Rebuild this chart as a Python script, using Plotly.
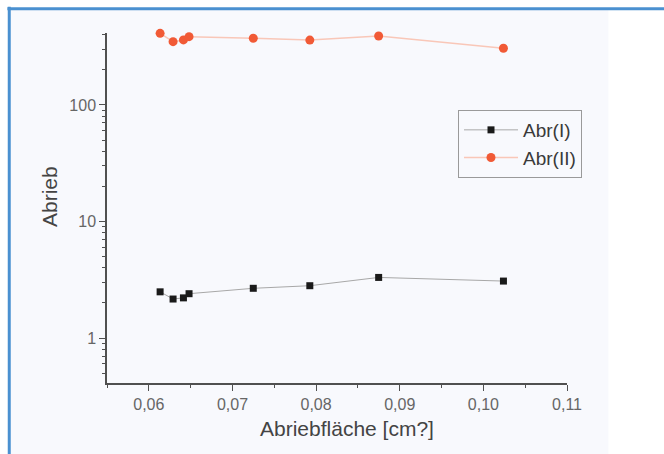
import plotly.graph_objects as go

x_vals = [0.06135, 0.0629, 0.06414, 0.06481, 0.07249, 0.07925, 0.08748, 0.1024]
abr_I = [2.49, 2.16, 2.21, 2.40, 2.67, 2.81, 3.31, 3.08]
abr_II = [411, 349, 361, 385, 373, 360, 390, 306]

x_major = [0.06, 0.07, 0.08, 0.09, 0.10, 0.11]
x_labels = ["0,06", "0,07", "0,08", "0,09", "0,10", "0,11"]
x_minor = [0.055, 0.065, 0.075, 0.085, 0.095, 0.105]
y_major = [1, 10, 100]
y_labels = ["1", "10", "100"]
y_minor = [0.5, 0.6, 0.7, 0.8, 0.9] + [2, 3, 4, 5, 6, 7, 8, 9] + [20, 30, 40, 50, 60, 70, 80, 90] + [200, 300, 400]

FONT = "Liberation Sans, Arial, sans-serif"

fig = go.Figure()
fig.add_trace(go.Scatter(
    x=x_vals, y=abr_I, name="Abr(I)", mode="lines+markers",
    line=dict(color="#a8a8a8", width=1),
    marker=dict(symbol="square", size=7, color="#1a1a1a"),
    cliponaxis=False))
fig.add_trace(go.Scatter(
    x=x_vals, y=abr_II, name="Abr(II)", mode="lines+markers",
    line=dict(color="#f9c7b8", width=1.5),
    marker=dict(symbol="circle", size=9, color="#f15a36"),
    cliponaxis=False))

axis_common = dict(showline=True, linecolor="#505050", linewidth=1.5, showgrid=False,
                   zeroline=False, ticks="outside", tickcolor="#505050", tickwidth=1.2,
                   ticklen=6, tickfont=dict(family=FONT, size=16, color="#666666"))

fig.update_layout(
    width=664, height=454,
    margin=dict(l=107, r=97, t=33, b=71),
    paper_bgcolor="white", plot_bgcolor="rgba(0,0,0,0)",
    showlegend=True,
    legend=dict(x=(458 - 107) / 460, y=(383 - 110) / 350, xanchor="left", yanchor="top",
                bgcolor="rgba(0,0,0,0)", bordercolor="#9a9a9a", borderwidth=1,
                font=dict(family=FONT, size=19, color="#3a3a3a"),
                tracegroupgap=0, itemwidth=54),
    xaxis=dict(range=[0.055, 0.11], tickvals=x_major, ticktext=x_labels,
               minor=dict(tickvals=x_minor, ticks="outside", ticklen=3, tickcolor="#505050"),
               **axis_common),
    yaxis=dict(type="log", range=[-0.386, 2.617], tickvals=y_major, ticktext=y_labels,
               minor=dict(tickvals=y_minor, ticks="outside", ticklen=3, tickcolor="#505050"),
               **axis_common),
    shapes=[
        dict(type="rect", xref="paper", yref="paper", x0=-0.215, x1=1.09, y0=-0.21, y1=1.07,
             line=dict(width=0), fillcolor="#f8f9fd", layer="below"),
        dict(type="line", xref="paper", yref="paper", x0=-0.2125, x1=-0.2125, y0=-0.21, y1=1.075,
             line=dict(color="#4a90d0", width=3)),
        dict(type="line", xref="paper", yref="paper", x0=-0.2165, x1=1.22, y0=1.0695, y1=1.0695,
             line=dict(color="#4a90d0", width=3)),
    ],
    annotations=[
        dict(text="Abrieb", xref="paper", yref="paper", x=(50 - 107) / 460, y=(383 - 197) / 350,
             xanchor="center", yanchor="middle",
             showarrow=False, textangle=-90,
             font=dict(family=FONT, size=21, color="#444444")),
        dict(text="Abriebfläche [cm?]", xref="paper", yref="paper", x=(347 - 107) / 460, y=-(428 - 383) / 350,
             xanchor="center", yanchor="middle",
             showarrow=False,
             font=dict(family=FONT, size=21, color="#444444")),
    ],
)

fig.write_html("out.html")
